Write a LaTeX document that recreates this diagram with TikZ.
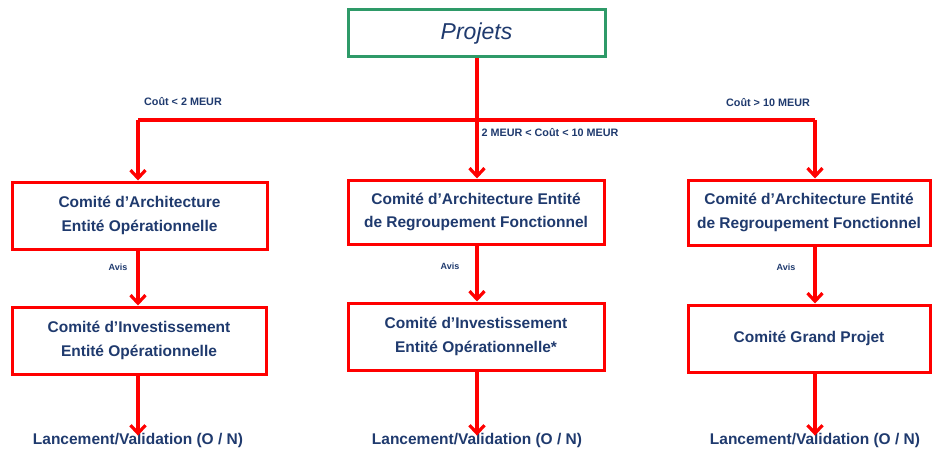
\documentclass[tikz,border=0pt]{standalone}
\usepackage{fontspec}
\setmainfont{Liberation Sans}
\usetikzlibrary{arrows.meta}
\definecolor{navy}{HTML}{1F3A6E}
\definecolor{flowred}{HTML}{FF0000}
\definecolor{framegreen}{HTML}{2E9A68}
\begin{document}
\begin{tikzpicture}[x=1pt,y=-1pt,
  flow/.style={draw=flowred,line width=3.2pt,line join=miter},
  arr/.style={flow,-{Straight Barb[length=8pt,width=15pt,line width=3.2pt]}},
  comite/.style={draw=flowred,line width=3pt,fill=white,align=center,
    text=navy,font=\bfseries\fontsize{15.5}{23.5}\selectfont,inner sep=0pt},
  cond/.style={text=navy,font=\bfseries\fontsize{10.8}{12}\selectfont,inner sep=1pt},
  avis/.style={text=navy,font=\bfseries\fontsize{9}{10}\selectfont,inner sep=1pt},
  issue/.style={text=navy,font=\bfseries\fontsize{15.5}{18}\selectfont,inner sep=1pt}]
\useasboundingbox (0,0) rectangle (932,452);

% Root box
\node[draw=framegreen,line width=3pt,fill=white,minimum width=257pt,minimum height=47pt,inner sep=0pt,
  text=navy,font=\itshape\fontsize{23}{26}\selectfont] (root) at (476.5,33.5) {Projets};

% Column positions on the branch line
\coordinate (J) at (477,120);
\coordinate (cL) at (138,120);
\coordinate (cM) at (477,120);
\coordinate (cR) at (815,120);

% First row of committees
\node[comite,minimum width=255pt,minimum height=67pt] (L1) at (139.5,215.5)
  {Comité d’Architecture\\Entité Opérationnelle};
\node[comite,minimum width=256pt,minimum height=64pt] (M1) at (476,212)
  {Comité d’Architecture Entité\\de Regroupement Fonctionnel};
\node[comite,minimum width=242pt,minimum height=65pt] (R1) at (809,212.5)
  {Comité d’Architecture Entité\\de Regroupement Fonctionnel};

% Second row of committees
\node[comite,minimum width=254pt,minimum height=67pt] (L2) at (139,340.5)
  {Comité d’Investissement\\Entité Opérationnelle};
\node[comite,minimum width=256pt,minimum height=67pt] (M2) at (476,336.5)
  {Comité d’Investissement\\Entité Opérationnelle*};
\node[comite,minimum width=242pt,minimum height=67pt] (R2) at (809,338.5)
  {Comité Grand Projet};

% Outcomes
\node[issue] (L3) at (138,440) {Lancement/Validation (O / N)};
\node[issue] (M3) at (477,440) {Lancement/Validation (O / N)};
\node[issue] (R3) at (815,440) {Lancement/Validation (O / N)};

% Branching from the root
\draw[flow] (root.south -| J) -- (J);
\draw[flow] (cL) -- (cR);
\draw[arr] (cL) -- (L1.north -| cL);
\draw[arr] (cM) -- (M1.north -| cM);
\draw[arr] (cR) -- (R1.north -| cR);

% Cost thresholds
\node[cond] (tL) at (183,102) {Coût < 2 MEUR};
\node[cond] (tM) at (550,133) {2 MEUR < Coût < 10 MEUR};
\node[cond] (tR) at (768,103) {Coût > 10 MEUR};

% Opinion to investment committees
\draw[arr] (L1.south -| cL) -- (L2.north -| cL);
\draw[arr] (M1.south -| cM) -- (M2.north -| cM);
\draw[arr] (R1.south -| cR) -- (R2.north -| cR);
\node[avis] (aL) at (118,267) {Avis};
\node[avis] (aM) at (450,266) {Avis};
\node[avis] (aR) at (786,267) {Avis};

% Decisions
\draw[arr] (L2.south -| cL) -- ([yshift=-4pt]L3.north -| cL);
\draw[arr] (M2.south -| cM) -- ([yshift=-4pt]M3.north -| cM);
\draw[arr] (R2.south -| cR) -- ([yshift=-4pt]R3.north -| cR);
\end{tikzpicture}
\end{document}
